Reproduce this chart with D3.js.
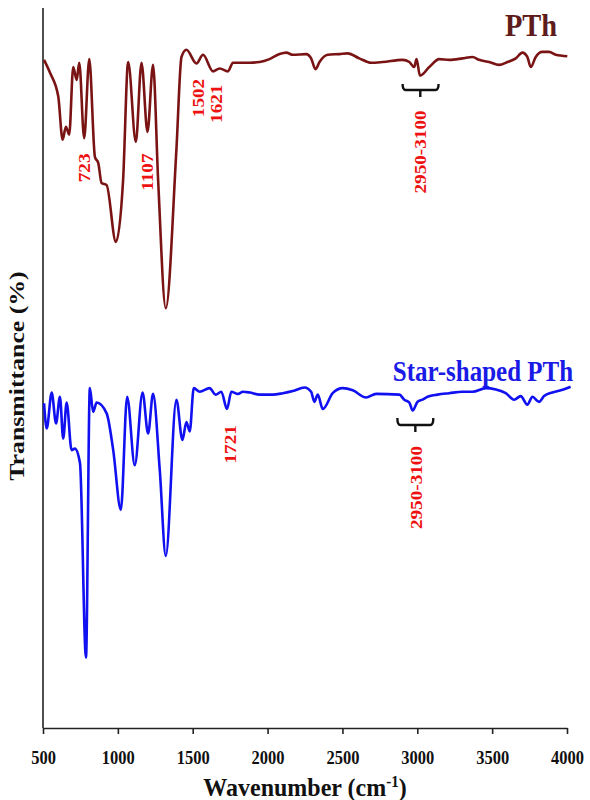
<!DOCTYPE html>
<html>
<head>
<meta charset="utf-8">
<script src="https://cdn.jsdelivr.net/npm/d3@7"></script>
<style>
  html, body { margin: 0; padding: 0; background: #fff; }
  svg text { font-family: "Liberation Serif", "Times New Roman", serif; font-weight: bold; }
</style>
</head>
<body>
<svg id="chart" width="590" height="800"></svg>
<script>
// ---- data (wavenumber, cm-1) and transmittance (arbitrary %, offset spectra) ----
const pthWavenumber = [507,547,602,631,653,675,702,725,742,775,809,847,869,891,925,987,1035,1069,1120,1158,1198,1235,1269,1320,1391,1425,1458,1525,1569,1635,1680,1735,1769,1813,1880,1947,2013,2080,2125,2169,2258,2291,2320,2347,2402,2480,2535,2613,2691,2769,2902,2947,2980,2995,3018,3080,3147,3213,3302,3369,3413,3480,3547,3602,3658,3702,3735,3758,3791,3835,3880,3925,4002];
const pthTransmittance = [92.8,91.0,87.7,81.7,83.5,82.4,91.8,90.0,92.4,81.9,92.9,79.3,78.5,75.7,75.4,67.5,76.1,92.5,81.4,92.4,82.8,92.1,76.1,58.3,80.3,93.2,94.2,92.3,93.5,91.2,91.6,91.2,92.4,92.4,92.4,92.5,92.9,93.6,93.8,93.5,93.6,93.0,91.5,92.5,93.5,93.6,93.7,93.0,92.4,92.5,92.8,92.5,91.8,92.9,90.6,91.8,92.9,92.8,93.0,93.2,92.8,92.5,92.1,92.5,93.0,93.8,93.2,91.8,93.2,93.9,93.9,93.5,93.3];

const starWavenumber = [507,525,558,587,613,635,658,691,713,747,787,813,835,858,925,969,1020,1062,1113,1165,1202,1235,1280,1320,1391,1431,1458,1480,1507,1547,1613,1653,1691,1729,1758,1802,1835,1880,1947,2035,2102,2169,2247,2291,2313,2335,2369,2435,2502,2569,2658,2725,2880,2913,2947,2969,3002,3035,3069,3135,3213,3302,3369,3458,3525,3591,3647,3691,3735,3769,3813,3847,3902,3958,4024];
const starTransmittance = [45.1,41.6,46.6,42.3,46.0,40.2,45.2,38.6,38.8,36.8,9.8,47.2,43.9,45.2,43.7,38.6,30.3,46.0,36.5,46.6,40.9,46.4,35.8,23.9,45.6,40.0,42.5,41.2,47.2,46.7,47.2,46.3,46.7,44.3,46.7,46.4,46.7,46.6,46.3,46.3,46.5,46.8,47.3,46.7,45.3,46.3,44.3,46.5,47.2,46.9,45.9,46.4,46.3,45.6,45.2,44.1,45.3,45.6,46.0,46.3,46.5,46.7,46.7,47.2,47.0,46.5,45.6,46.1,44.9,46.0,45.3,46.1,46.6,46.9,47.4];

const xTicks = [500,1000,1500,2000,2500,3000,3500,4000];
const seriesNames = ["PTh", "Star-shaped PTh"];
const pthPeakLabels = ["723", "1107", "1502", "1621", "2950-3100"];
const starPeakLabels = ["1721", "2950-3100"];

// ---- layout ----
const svg = d3.select("#chart");
const x = d3.scaleLinear().domain([500, 4000]).range([43, 567]);
const y = d3.scaleLinear().domain([0, 100]).range([728, 8]);
const STRETCH = 1.2; // glyphs in the reference are taller than wide

const line = d3.line().x(d => x(d[0])).y(d => y(d[1])).curve(d3.curveMonotoneX);

// axes
const xAxis = d3.axisBottom(x).tickValues(xTicks).tickSize(6).tickSizeOuter(0).tickFormat(d3.format("d"));
const gx = svg.append("g").attr("transform", `translate(0,${y(0)})`).call(xAxis);
gx.select(".domain").attr("stroke", "#222").attr("stroke-width", 1.6);
gx.selectAll(".tick line").attr("stroke", "#222").attr("stroke-width", 1.6);
gx.selectAll(".tick text").each(function(d) {
  const t = d3.select(this);
  t.attr("y", null).attr("dy", null)
   .attr("transform", `translate(0,${36}) scale(1,${STRETCH})`)
   .attr("font-size", 16.5).attr("fill", "#111")
   .attr("font-family", "'Liberation Serif', serif").attr("font-weight", "bold");
});
svg.append("line").attr("x1", x(500)).attr("x2", x(500)).attr("y1", y(100)).attr("y2", y(0))
   .attr("stroke", "#222").attr("stroke-width", 1.6);

// axis titles
const xt = svg.append("text").attr("text-anchor", "middle")
  .attr("transform", `translate(${305},${796}) scale(1,1.05)`)
  .attr("font-size", 24).attr("fill", "#111");
xt.append("tspan").text("Wavenumber (cm");
xt.append("tspan").attr("font-size", 15).attr("dy", -9).text("-1");
xt.append("tspan").attr("dy", 9).text(")");

svg.append("text").attr("text-anchor", "middle").attr("dominant-baseline", "central")
  .attr("transform", `translate(17,376) rotate(-90) scale(${STRETCH},1)`)
  .attr("font-size", 21.5).attr("fill", "#111").text("Transmittance (%)");

// spectra
const pthData = pthWavenumber.map((w, i) => [w, pthTransmittance[i]]);
const starData = starWavenumber.map((w, i) => [w, starTransmittance[i]]);
svg.append("path").datum(pthData).attr("d", line).attr("fill", "none")
  .attr("stroke", "#7a1414").attr("stroke-width", 2.6).attr("stroke-linejoin", "round");
svg.append("path").datum(starData).attr("d", line).attr("fill", "none")
  .attr("stroke", "#1010f0").attr("stroke-width", 2.6).attr("stroke-linejoin", "round");

// series titles
svg.append("text").attr("text-anchor", "middle")
  .attr("transform", `translate(531,36) scale(1,1.1)`)
  .attr("font-size", 28.5).attr("fill", "#5e1b1b").text(seriesNames[0]);
svg.append("text").attr("text-anchor", "middle")
  .attr("transform", `translate(483,381) scale(1,${STRETCH})`)
  .attr("font-size", 25).attr("fill", "#1a1ae6").text(seriesNames[1]);

// peak annotations (rotated red labels), anchored in data coordinates
function vlabel(txt, wn, t) {
  svg.append("text").attr("text-anchor", "middle").attr("dominant-baseline", "central")
    .attr("transform", `translate(${x(wn)},${y(t)}) rotate(-90) scale(${STRETCH},1)`)
    .attr("font-size", 16).attr("fill", "#ee1111").text(txt);
}
const pthAnchors = [[780, 77.8], [1200, 77.2], [1540, 87.5], [1660, 86.7], [3023, 80.0]];
pthPeakLabels.forEach((s, i) => vlabel(s, pthAnchors[i][0], pthAnchors[i][1]));
const starAnchors = [[1751, 39.4], [2997, 33.4]];
starPeakLabels.forEach((s, i) => vlabel(s, starAnchors[i][0], starAnchors[i][1]));

// brackets over the 2950-3100 region
function bracket(w1, w2, wc, tTop, tBar, tStem) {
  const x1 = x(w1), x2 = x(w2), xc = x(wc), yt = y(tTop), yb = y(tBar), ys = y(tStem);
  svg.append("path")
    .attr("d", `M${x1},${yt} Q${x1},${yb} ${x1+3},${yb} L${x2-3},${yb} Q${x2},${yb} ${x2},${yt} M${xc},${yb} L${xc},${ys}`)
    .attr("fill", "none").attr("stroke", "#111").attr("stroke-width", 2.4);
}
bracket(2902, 3142, 3020, (728-84)/7.2, (728-90)/7.2, (728-97)/7.2);
bracket(2867, 3107, 2987, (728-418)/7.2, (728-425)/7.2, (728-432)/7.2);
</script>
</body>
</html>
